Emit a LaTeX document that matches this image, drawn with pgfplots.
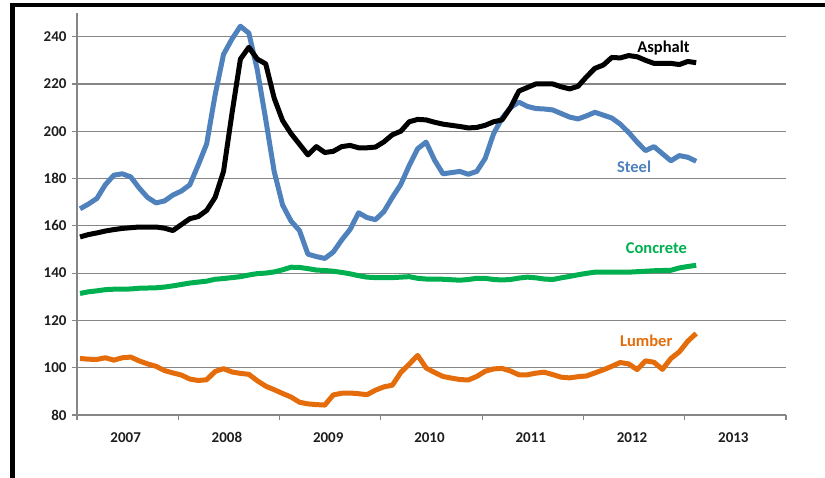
\documentclass[border=0pt]{standalone}
\usepackage{pgfplots}
\usepackage{pgfplotstable}
\pgfplotsset{compat=1.18}
\usepackage{fontspec}
\setmainfont{Carlito}

\definecolor{steelblue}{RGB}{79,129,189}
\definecolor{concretegreen}{RGB}{0,176,80}
\definecolor{lumberorange}{RGB}{228,108,10}
\definecolor{gridgray}{RGB}{134,134,134}
\definecolor{ticktext}{RGB}{30,30,30}

% Monthly price indices, Jan 2007 (m = 0) to Feb 2013 (m = 73)
\pgfplotstableread{
m steel asphalt concrete lumber
0 167.2 155.3 131.4 103.9
1 169.2 156.3 132.1 103.6
2 171.6 157.0 132.5 103.5
3 177.4 157.8 133.0 104.2
4 181.4 158.4 133.2 103.2
5 182.0 158.9 133.2 104.2
6 180.7 159.2 133.3 104.5
7 176.0 159.5 133.6 102.9
8 172.0 159.5 133.7 101.6
9 169.7 159.5 133.8 100.6
10 170.5 159.0 134.1 98.8
11 173.0 158.0 134.6 97.8
12 174.7 160.5 135.2 96.9
13 177.3 163.0 135.8 95.2
14 185.7 163.9 136.2 94.6
15 194.6 166.5 136.6 94.9
16 215.3 172.0 137.4 98.4
17 232.5 183.0 137.7 99.6
18 239.0 207.5 138.1 98.2
19 244.4 230.5 138.5 97.6
20 241.5 235.5 139.2 97.2
21 226.0 230.5 139.8 94.5
22 205.0 228.5 140.0 92.2
23 183.0 214.0 140.5 90.7
24 168.8 204.5 141.4 89.1
25 162.0 199.0 142.5 87.6
26 158.0 194.5 142.4 85.4
27 148.0 190.0 141.9 84.7
28 147.0 193.5 141.3 84.4
29 146.2 191.0 141.1 84.2
30 148.9 191.5 140.8 88.5
31 154.0 193.5 140.3 89.2
32 158.5 194.0 139.7 89.3
33 165.5 193.0 138.9 89.0
34 163.5 193.0 138.3 88.6
35 162.6 193.3 138.1 90.5
36 166.0 195.5 138.1 91.9
37 172.0 198.5 138.1 92.6
38 177.5 200.0 138.3 98.0
39 185.5 204.0 138.5 101.5
40 192.6 205.0 137.8 105.2
41 195.4 204.8 137.5 99.9
42 187.8 203.8 137.5 98.0
43 182.0 203.0 137.4 96.3
44 182.5 202.5 137.2 95.6
45 183.0 202.0 137.0 95.0
46 181.8 201.4 137.3 94.8
47 183.0 201.6 137.8 96.3
48 188.5 202.5 137.8 98.5
49 199.0 204.0 137.3 99.5
50 205.5 204.8 137.1 99.7
51 210.0 210.0 137.3 98.6
52 212.3 217.0 137.9 97.0
53 210.5 218.5 138.3 97.0
54 209.6 220.0 138.0 97.7
55 209.4 220.0 137.5 98.1
56 209.0 220.0 137.3 97.1
57 207.5 218.8 138.0 96.0
58 206.0 217.9 138.6 95.7
59 205.2 219.0 139.3 96.2
60 206.5 223.0 139.9 96.5
61 208.0 226.6 140.4 97.8
62 206.8 228.0 140.4 99.1
63 205.6 231.2 140.4 100.6
64 203.0 231.0 140.4 102.2
65 199.5 232.0 140.4 101.6
66 195.4 231.5 140.6 99.2
67 191.8 230.0 140.8 102.9
68 193.5 228.7 141.0 102.3
69 190.5 228.7 141.1 99.3
70 187.5 228.7 141.2 103.9
71 189.7 228.2 142.2 106.7
72 189.0 229.5 142.8 111.2
73 187.3 229.0 143.3 114.5
}\prices

\begin{document}
\begin{tikzpicture}
\useasboundingbox (0,0) rectangle (825bp,478bp);
% outer frame
\draw[line width=4.5bp, line join=miter, line cap=rect] (12.5bp,0) -- (12.5bp,473bp) -- (825bp,473bp);
\begin{axis}[
  at={(77bp,63bp)}, anchor=south west,
  width=709bp, height=402bp, scale only axis,
  xmin=2007, xmax=2014, ymin=80, ymax=250,
  axis x line*=bottom, axis y line*=left,
  axis line style={gridgray, line width=1.2bp, -},
  ytick={80,100,...,240},
  xtick={2007.5,2008.5,...,2013.5},
  xticklabels={2007,2008,2009,2010,2011,2012,2013},
  minor xtick={2007,2008,...,2014},
  tick align=outside,
  major tick length=5bp, minor tick length=5bp,
  major x tick style={draw=none},
  tick style={gridgray, line width=1.2bp},
  ymajorgrids,
  major grid style={gridgray, line width=1.2bp},
  /pgf/number format/assume math mode=true,
  /pgf/number format/1000 sep={},
  ticklabel style={font=\fontsize{15bp}{18bp}\selectfont\bfseries, text=ticktext},
  xticklabel style={yshift=-9bp, xshift=-2bp},
  yticklabel style={xshift=-2bp},
  clip=false,
  every axis plot/.append style={line width=5bp, line join=round, no markers},
]
\addplot[steelblue] table[x expr=2007.03+\thisrow{m}/12, y=steel] {\prices};
\addplot[black] table[x expr=2007.03+\thisrow{m}/12, y=asphalt] {\prices};
\addplot[concretegreen] table[x expr=2007.03+\thisrow{m}/12, y=concrete] {\prices};
\addplot[lumberorange] table[x expr=2007.03+\thisrow{m}/12, y=lumber] {\prices};

\node[font=\fontsize{16.5bp}{19bp}\selectfont\bfseries, text=black] at (axis cs:2012.79,235.3) {Asphalt};
\node[font=\fontsize{16.5bp}{19bp}\selectfont\bfseries, text=steelblue] at (axis cs:2012.50,185.1) {Steel};
\node[font=\fontsize{16.5bp}{19bp}\selectfont\bfseries, text=concretegreen] at (axis cs:2012.72,150.5) {Concrete};
\node[font=\fontsize{16.5bp}{19bp}\selectfont\bfseries, text=lumberorange] at (axis cs:2012.62,111.2) {Lumber};
\end{axis}
\end{tikzpicture}
\end{document}
